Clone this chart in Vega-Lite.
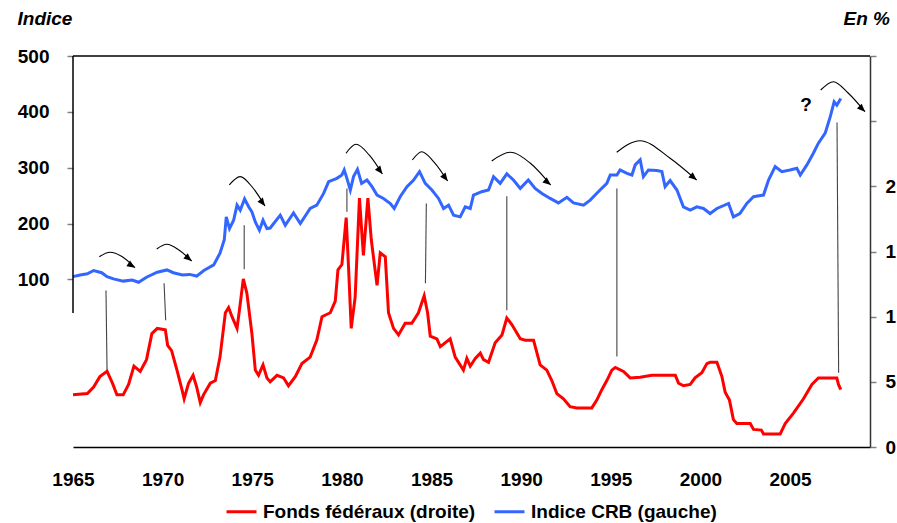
{
  "$schema": "https://vega.github.io/schema/vega-lite/v6.json",
  "width": 797,
  "height": 391,
  "autosize": {"type": "none"},
  "padding": {"left": 73, "top": 56, "right": 27, "bottom": 76},
  "background": "white",
  "config": {
    "view": {"stroke": null},
    "font": "Liberation Sans",
    "axis": {"grid": false, "labelFont": "Liberation Sans", "labelFontWeight": "bold", "labelFontSize": 19, "labelColor": "black", "titleFont": "Liberation Sans"},
    "legend": {"labelFont": "Liberation Sans"}
  },
  "datasets": {
    "crb": [
      {"date": 1965.0, "v": 105}, {"date": 1965.4, "v": 108}, {"date": 1965.8, "v": 110}, {"date": 1966.15, "v": 116}, {"date": 1966.6, "v": 112},
      {"date": 1966.9, "v": 105}, {"date": 1967.26, "v": 101}, {"date": 1967.8, "v": 97}, {"date": 1968.3, "v": 99}, {"date": 1968.66, "v": 95},
      {"date": 1969.1, "v": 104}, {"date": 1969.7, "v": 113}, {"date": 1970.24, "v": 117}, {"date": 1970.6, "v": 112}, {"date": 1971.1, "v": 108},
      {"date": 1971.5, "v": 109}, {"date": 1971.9, "v": 106}, {"date": 1972.3, "v": 116}, {"date": 1972.85, "v": 126}, {"date": 1973.2, "v": 147},
      {"date": 1973.44, "v": 171}, {"date": 1973.55, "v": 212}, {"date": 1973.73, "v": 191}, {"date": 1973.96, "v": 206}, {"date": 1974.15, "v": 233},
      {"date": 1974.33, "v": 224}, {"date": 1974.57, "v": 244}, {"date": 1974.8, "v": 230}, {"date": 1974.98, "v": 221}, {"date": 1975.17, "v": 203},
      {"date": 1975.4, "v": 188}, {"date": 1975.6, "v": 206}, {"date": 1975.82, "v": 191}, {"date": 1976.0, "v": 192}, {"date": 1976.56, "v": 215},
      {"date": 1976.84, "v": 197}, {"date": 1977.3, "v": 219}, {"date": 1977.68, "v": 200}, {"date": 1978.23, "v": 227}, {"date": 1978.6, "v": 233},
      {"date": 1978.98, "v": 254}, {"date": 1979.26, "v": 275}, {"date": 1979.72, "v": 281}, {"date": 1980.0, "v": 287}, {"date": 1980.13, "v": 296},
      {"date": 1980.28, "v": 281}, {"date": 1980.47, "v": 260}, {"date": 1980.65, "v": 284}, {"date": 1980.87, "v": 297}, {"date": 1981.1, "v": 272},
      {"date": 1981.4, "v": 278}, {"date": 1981.68, "v": 266}, {"date": 1981.96, "v": 251}, {"date": 1982.32, "v": 245}, {"date": 1982.7, "v": 236},
      {"date": 1982.92, "v": 227}, {"date": 1983.25, "v": 248}, {"date": 1983.63, "v": 266}, {"date": 1984.0, "v": 278}, {"date": 1984.33, "v": 293},
      {"date": 1984.65, "v": 272}, {"date": 1985.02, "v": 260}, {"date": 1985.39, "v": 245}, {"date": 1985.67, "v": 227}, {"date": 1985.95, "v": 233},
      {"date": 1986.23, "v": 215}, {"date": 1986.6, "v": 212}, {"date": 1986.88, "v": 230}, {"date": 1987.16, "v": 227}, {"date": 1987.34, "v": 251},
      {"date": 1987.8, "v": 257}, {"date": 1988.18, "v": 260}, {"date": 1988.46, "v": 284}, {"date": 1988.83, "v": 272}, {"date": 1989.2, "v": 289},
      {"date": 1989.57, "v": 278}, {"date": 1989.95, "v": 263}, {"date": 1990.4, "v": 278}, {"date": 1990.78, "v": 263}, {"date": 1991.16, "v": 254},
      {"date": 1991.62, "v": 245}, {"date": 1992.08, "v": 237}, {"date": 1992.55, "v": 247}, {"date": 1992.92, "v": 237}, {"date": 1993.48, "v": 233},
      {"date": 1993.85, "v": 242}, {"date": 1994.4, "v": 260}, {"date": 1994.78, "v": 272}, {"date": 1994.97, "v": 287}, {"date": 1995.34, "v": 287},
      {"date": 1995.52, "v": 296}, {"date": 1995.9, "v": 290}, {"date": 1996.18, "v": 287}, {"date": 1996.36, "v": 305}, {"date": 1996.64, "v": 314},
      {"date": 1996.82, "v": 284}, {"date": 1997.1, "v": 296}, {"date": 1997.57, "v": 295}, {"date": 1997.85, "v": 293}, {"date": 1998.03, "v": 266},
      {"date": 1998.31, "v": 277}, {"date": 1998.69, "v": 260}, {"date": 1999.05, "v": 230}, {"date": 1999.43, "v": 224}, {"date": 1999.8, "v": 230},
      {"date": 2000.17, "v": 227}, {"date": 2000.54, "v": 218}, {"date": 2000.92, "v": 227}, {"date": 2001.57, "v": 236}, {"date": 2001.84, "v": 212},
      {"date": 2002.2, "v": 218}, {"date": 2002.59, "v": 236}, {"date": 2002.96, "v": 248}, {"date": 2003.52, "v": 251}, {"date": 2003.8, "v": 278},
      {"date": 2004.17, "v": 302}, {"date": 2004.54, "v": 293}, {"date": 2005.0, "v": 296}, {"date": 2005.38, "v": 299}, {"date": 2005.57, "v": 287},
      {"date": 2005.94, "v": 305}, {"date": 2006.3, "v": 326}, {"date": 2006.58, "v": 344}, {"date": 2006.96, "v": 362}, {"date": 2007.24, "v": 391},
      {"date": 2007.46, "v": 418}, {"date": 2007.61, "v": 412}, {"date": 2007.83, "v": 424}
    ],
    "fed": [
      {"date": 1965.0, "f": 4.0}, {"date": 1965.8, "f": 4.1}, {"date": 1966.15, "f": 4.6}, {"date": 1966.5, "f": 5.4}, {"date": 1966.9, "f": 5.8},
      {"date": 1967.2, "f": 4.9}, {"date": 1967.45, "f": 4.0}, {"date": 1967.8, "f": 4.0}, {"date": 1968.1, "f": 4.8}, {"date": 1968.4, "f": 6.2},
      {"date": 1968.75, "f": 5.8}, {"date": 1969.1, "f": 6.7}, {"date": 1969.4, "f": 8.7}, {"date": 1969.7, "f": 9.1}, {"date": 1970.15, "f": 9.0},
      {"date": 1970.28, "f": 7.8}, {"date": 1970.5, "f": 7.4}, {"date": 1970.8, "f": 5.9}, {"date": 1971.08, "f": 4.4}, {"date": 1971.2, "f": 3.7},
      {"date": 1971.45, "f": 4.9}, {"date": 1971.7, "f": 5.5}, {"date": 1971.9, "f": 4.6}, {"date": 1972.1, "f": 3.4}, {"date": 1972.28, "f": 4.0},
      {"date": 1972.66, "f": 4.9}, {"date": 1972.94, "f": 5.1}, {"date": 1973.2, "f": 6.9}, {"date": 1973.5, "f": 10.3}, {"date": 1973.68, "f": 10.7},
      {"date": 1973.87, "f": 10.0}, {"date": 1974.15, "f": 9.1}, {"date": 1974.33, "f": 11.0}, {"date": 1974.5, "f": 12.9}, {"date": 1974.7, "f": 11.8},
      {"date": 1974.98, "f": 8.7}, {"date": 1975.17, "f": 5.9}, {"date": 1975.35, "f": 5.5}, {"date": 1975.6, "f": 6.3}, {"date": 1975.82, "f": 5.3},
      {"date": 1976.0, "f": 5.0}, {"date": 1976.38, "f": 5.5}, {"date": 1976.75, "f": 5.3}, {"date": 1977.02, "f": 4.7}, {"date": 1977.4, "f": 5.4},
      {"date": 1977.77, "f": 6.4}, {"date": 1978.23, "f": 6.9}, {"date": 1978.6, "f": 8.2}, {"date": 1978.89, "f": 10.0}, {"date": 1979.35, "f": 10.3},
      {"date": 1979.63, "f": 11.2}, {"date": 1979.78, "f": 13.6}, {"date": 1980.0, "f": 14.0}, {"date": 1980.24, "f": 17.6}, {"date": 1980.37, "f": 13.8},
      {"date": 1980.52, "f": 9.1}, {"date": 1980.74, "f": 11.5}, {"date": 1980.98, "f": 19.1}, {"date": 1981.2, "f": 14.7}, {"date": 1981.45, "f": 19.1},
      {"date": 1981.64, "f": 15.9}, {"date": 1981.96, "f": 12.4}, {"date": 1982.14, "f": 14.9}, {"date": 1982.42, "f": 14.6}, {"date": 1982.6, "f": 10.3},
      {"date": 1982.88, "f": 9.1}, {"date": 1983.16, "f": 8.6}, {"date": 1983.53, "f": 9.5}, {"date": 1983.9, "f": 9.5}, {"date": 1984.27, "f": 10.3},
      {"date": 1984.59, "f": 11.6}, {"date": 1984.78, "f": 10.3}, {"date": 1984.93, "f": 8.5}, {"date": 1985.3, "f": 8.3}, {"date": 1985.49, "f": 7.7},
      {"date": 1986.04, "f": 8.3}, {"date": 1986.32, "f": 6.9}, {"date": 1986.78, "f": 5.9}, {"date": 1986.97, "f": 6.8}, {"date": 1987.16, "f": 6.2},
      {"date": 1987.44, "f": 6.8}, {"date": 1987.72, "f": 7.2}, {"date": 1987.9, "f": 6.7}, {"date": 1988.18, "f": 6.5}, {"date": 1988.55, "f": 8.0},
      {"date": 1988.93, "f": 8.6}, {"date": 1989.2, "f": 9.9}, {"date": 1989.48, "f": 9.4}, {"date": 1989.95, "f": 8.3}, {"date": 1990.23, "f": 8.2},
      {"date": 1990.69, "f": 8.2}, {"date": 1991.06, "f": 6.3}, {"date": 1991.43, "f": 5.9}, {"date": 1991.71, "f": 5.1}, {"date": 1991.99, "f": 4.1},
      {"date": 1992.36, "f": 3.7}, {"date": 1992.73, "f": 3.1}, {"date": 1993.1, "f": 3.0}, {"date": 1993.94, "f": 3.0}, {"date": 1994.22, "f": 3.6},
      {"date": 1994.5, "f": 4.4}, {"date": 1994.78, "f": 5.1}, {"date": 1995.06, "f": 5.9}, {"date": 1995.25, "f": 6.1}, {"date": 1995.71, "f": 5.8},
      {"date": 1996.08, "f": 5.3}, {"date": 1996.64, "f": 5.35}, {"date": 1997.29, "f": 5.5}, {"date": 1998.31, "f": 5.5}, {"date": 1998.6, "f": 5.5},
      {"date": 1998.78, "f": 4.9}, {"date": 1999.05, "f": 4.7}, {"date": 1999.43, "f": 4.8}, {"date": 1999.7, "f": 5.3}, {"date": 2000.08, "f": 5.7},
      {"date": 2000.36, "f": 6.4}, {"date": 2000.54, "f": 6.5}, {"date": 2000.92, "f": 6.5}, {"date": 2001.2, "f": 5.4}, {"date": 2001.38, "f": 4.2},
      {"date": 2001.62, "f": 3.6}, {"date": 2001.84, "f": 2.1}, {"date": 2002.03, "f": 1.8}, {"date": 2002.78, "f": 1.8}, {"date": 2002.96, "f": 1.35},
      {"date": 2003.4, "f": 1.3}, {"date": 2003.52, "f": 1.0}, {"date": 2004.45, "f": 1.0}, {"date": 2004.73, "f": 1.8}, {"date": 2005.19, "f": 2.6},
      {"date": 2005.75, "f": 3.7}, {"date": 2006.22, "f": 4.8}, {"date": 2006.58, "f": 5.3}, {"date": 2007.61, "f": 5.3}, {"date": 2007.7, "f": 4.8},
      {"date": 2007.83, "f": 4.4}
    ],
    "frame": [
      {"date": 1965.0, "date2": 2009.46, "v": 500, "v2": 500},
      {"date": 1965.0, "date2": 1965.0, "v": 500, "v2": 40}
    ],
    "links": [
      {"date": 1966.84, "date2": 1966.9, "v": 80, "v2": -65},
      {"date": 1970.08, "date2": 1970.17, "v": 93, "v2": 27},
      {"date": 1974.55, "date2": 1974.55, "v": 197, "v2": 118},
      {"date": 1980.28, "date2": 1980.28, "v": 263, "v2": 221},
      {"date": 1984.71, "date2": 1984.66, "v": 236, "v2": 93},
      {"date": 1989.2, "date2": 1989.2, "v": 249, "v2": 45},
      {"date": 1995.34, "date2": 1995.34, "v": 263, "v2": -38},
      {"date": 2007.62, "date2": 2007.71, "v": 381, "v2": -67}
    ],
    "arrows": [
      {"id": 1, "date": 1966.47, "v": 140.7}, {"id": 1, "date": 1967.06, "v": 148.6}, {"id": 1, "date": 1967.73, "v": 141}, {"id": 1, "date": 1968.46, "v": 121},
      {"id": 2, "date": 1969.67, "v": 154.5}, {"id": 2, "date": 1970.23, "v": 162.9}, {"id": 2, "date": 1970.91, "v": 152.7}, {"id": 2, "date": 1971.62, "v": 133},
      {"id": 3, "date": 1973.72, "v": 269.1}, {"id": 3, "date": 1974.32, "v": 284}, {"id": 3, "date": 1975.04, "v": 263.7}, {"id": 3, "date": 1975.71, "v": 231.5},
      {"id": 4, "date": 1980.23, "v": 325.8}, {"id": 4, "date": 1980.79, "v": 341.9}, {"id": 4, "date": 1981.52, "v": 322.8}, {"id": 4, "date": 1982.26, "v": 288.8},
      {"id": 5, "date": 1983.93, "v": 313.8}, {"id": 5, "date": 1984.45, "v": 328.7}, {"id": 5, "date": 1985.14, "v": 310.2}, {"id": 5, "date": 1985.9, "v": 276.2},
      {"id": 6, "date": 1988.36, "v": 312}, {"id": 6, "date": 1989.38, "v": 327.6}, {"id": 6, "date": 1990.5, "v": 308.4}, {"id": 6, "date": 1991.65, "v": 269},
      {"id": 7, "date": 1995.33, "v": 327.6}, {"id": 7, "date": 1996.63, "v": 348.4}, {"id": 7, "date": 1998.31, "v": 316.9}, {"id": 7, "date": 1999.79, "v": 278},
      {"id": 8, "date": 2006.71, "v": 439.1}, {"id": 8, "date": 2007.42, "v": 454}, {"id": 8, "date": 2008.24, "v": 433.8}, {"id": 8, "date": 2009.18, "v": 400.3}
    ],
    "heads": [
      {"id": 1, "date": 1968.46, "v": 121},
      {"id": 2, "date": 1971.62, "v": 133},
      {"id": 3, "date": 1975.71, "v": 231.5},
      {"id": 4, "date": 1982.26, "v": 288.8},
      {"id": 5, "date": 1985.9, "v": 276.2},
      {"id": 6, "date": 1991.65, "v": 269},
      {"id": 7, "date": 1999.79, "v": 278},
      {"id": 8, "date": 2009.18, "v": 400.3}
    ],
    "notes": [
      {"date": 2005.89, "v": 412, "t": "?"}
    ]
  },
  "layer": [
    {
      "layer": [
        {
          "data": {"name": "crb"},
          "mark": {"type": "line", "strokeWidth": 3, "interpolate": "linear"},
          "encoding": {
            "x": {"field": "date", "type": "quantitative", "scale": {"domain": [1965, 2009.46], "nice": false, "zero": false},
              "axis": {"values": [1965, 1970, 1975, 1980, 1985, 1990, 1995, 2000, 2005], "format": "d", "ticks": false, "tickSize": 0, "labelPadding": 23, "domainColor": "black", "domainWidth": 1.5, "title": null, "labelFlush": false, "labelOverlap": false}},
            "y": {"field": "v", "type": "quantitative", "scale": {"domain": [-200, 500], "nice": false, "zero": false},
              "axis": {"values": [100, 200, 300, 400, 500], "domain": false, "tickSize": 6, "tickColor": "#808080", "tickWidth": 1.5, "labelPadding": 18,
                "title": "Indice", "titleAngle": 0, "titleX": -56, "titleY": -32, "titleAlign": "left", "titleBaseline": "alphabetic",
                "titleFontSize": 19, "titleFontWeight": "bold", "titleFontStyle": "italic", "titleColor": "black"}},
            "color": {"datum": "Indice CRB (gauche)", "type": "nominal",
              "scale": {"domain": ["Fonds fédéraux (droite)", "Indice CRB (gauche)"], "range": ["#FF0000", "#3366FF"]},
              "legend": {"orient": "none", "legendX": 152, "legendY": 439, "direction": "horizontal", "title": null, "symbolType": "stroke",
                "symbolStrokeWidth": 3, "symbolSize": 900, "labelFontSize": 19, "labelFontWeight": "bold", "labelColor": "black", "labelLimit": 0,
                "labelOffset": 5, "columnPadding": 12, "padding": 0}}
          }
        },
        {
          "data": {"name": "frame"},
          "mark": {"type": "rule", "color": "black", "strokeWidth": 1.5},
          "encoding": {
            "x": {"field": "date", "type": "quantitative"},
            "x2": {"field": "date2"},
            "y": {"field": "v", "type": "quantitative"},
            "y2": {"field": "v2"}
          }
        },
        {
          "data": {"name": "links"},
          "mark": {"type": "rule", "color": "#444444", "strokeWidth": 1.1},
          "encoding": {
            "x": {"field": "date", "type": "quantitative"},
            "x2": {"field": "date2"},
            "y": {"field": "v", "type": "quantitative"},
            "y2": {"field": "v2"}
          }
        },
        {
          "data": {"name": "arrows"},
          "mark": {"type": "line", "color": "black", "strokeWidth": 1.1, "interpolate": "monotone"},
          "encoding": {
            "x": {"field": "date", "type": "quantitative"},
            "y": {"field": "v", "type": "quantitative"},
            "detail": {"field": "id", "type": "nominal"}
          }
        },
        {
          "data": {"name": "heads"},
          "transform": [{"filter": "datum.id == 1"}],
          "mark": {"type": "point", "shape": "M0,0L-2,-0.85L-2,0.85Z", "filled": true, "color": "black", "opacity": 1, "size": 64, "angle": 32},
          "encoding": {
            "x": {"field": "date", "type": "quantitative"},
            "y": {"field": "v", "type": "quantitative"}
          }
        },
        {
          "data": {"name": "heads"},
          "transform": [{"filter": "datum.id == 2 || datum.id == 6 || datum.id == 7"}],
          "mark": {"type": "point", "shape": "M0,0L-2,-0.85L-2,0.85Z", "filled": true, "color": "black", "opacity": 1, "size": 64, "angle": 40},
          "encoding": {
            "x": {"field": "date", "type": "quantitative"},
            "y": {"field": "v", "type": "quantitative"}
          }
        },
        {
          "data": {"name": "heads"},
          "transform": [{"filter": "datum.id == 3 || datum.id == 4 || datum.id == 5"}],
          "mark": {"type": "point", "shape": "M0,0L-2,-0.85L-2,0.85Z", "filled": true, "color": "black", "opacity": 1, "size": 64, "angle": 53},
          "encoding": {
            "x": {"field": "date", "type": "quantitative"},
            "y": {"field": "v", "type": "quantitative"}
          }
        },
        {
          "data": {"name": "heads"},
          "transform": [{"filter": "datum.id == 8"}],
          "mark": {"type": "point", "shape": "M0,0L-2,-0.85L-2,0.85Z", "filled": true, "color": "black", "opacity": 1, "size": 64, "angle": 45},
          "encoding": {
            "x": {"field": "date", "type": "quantitative"},
            "y": {"field": "v", "type": "quantitative"}
          }
        },
        {
          "data": {"name": "notes"},
          "mark": {"type": "text", "font": "Liberation Sans", "fontWeight": "bold", "fontSize": 19, "color": "black"},
          "encoding": {
            "x": {"field": "date", "type": "quantitative"},
            "y": {"field": "v", "type": "quantitative"},
            "text": {"field": "t"}
          }
        }
      ]
    },
    {
      "data": {"name": "fed"},
      "mark": {"type": "line", "strokeWidth": 3, "interpolate": "linear"},
      "encoding": {
        "x": {"field": "date", "type": "quantitative"},
        "y": {"field": "f", "type": "quantitative", "scale": {"domain": [0, 30], "nice": false, "zero": false},
          "axis": {"orient": "right", "values": [0, 5, 10, 15, 20, 25, 30],
            "labelExpr": "datum.value == 10 || datum.value == 15 ? '1' : datum.value == 20 ? '2' : datum.value > 20 ? '' : datum.label",
            "domainColor": "#333333", "domainWidth": 1.5, "tickSize": 6, "tickColor": "#808080", "tickWidth": 1.5, "labelPadding": 9,
            "title": "En %", "titleAngle": 0, "titleX": -27, "titleY": -32, "titleAlign": "left", "titleBaseline": "alphabetic",
            "titleFontSize": 19, "titleFontWeight": "bold", "titleFontStyle": "italic", "titleColor": "black"}},
        "color": {"datum": "Fonds fédéraux (droite)", "type": "nominal"}
      }
    }
  ],
  "resolve": {"scale": {"y": "independent"}}
}
